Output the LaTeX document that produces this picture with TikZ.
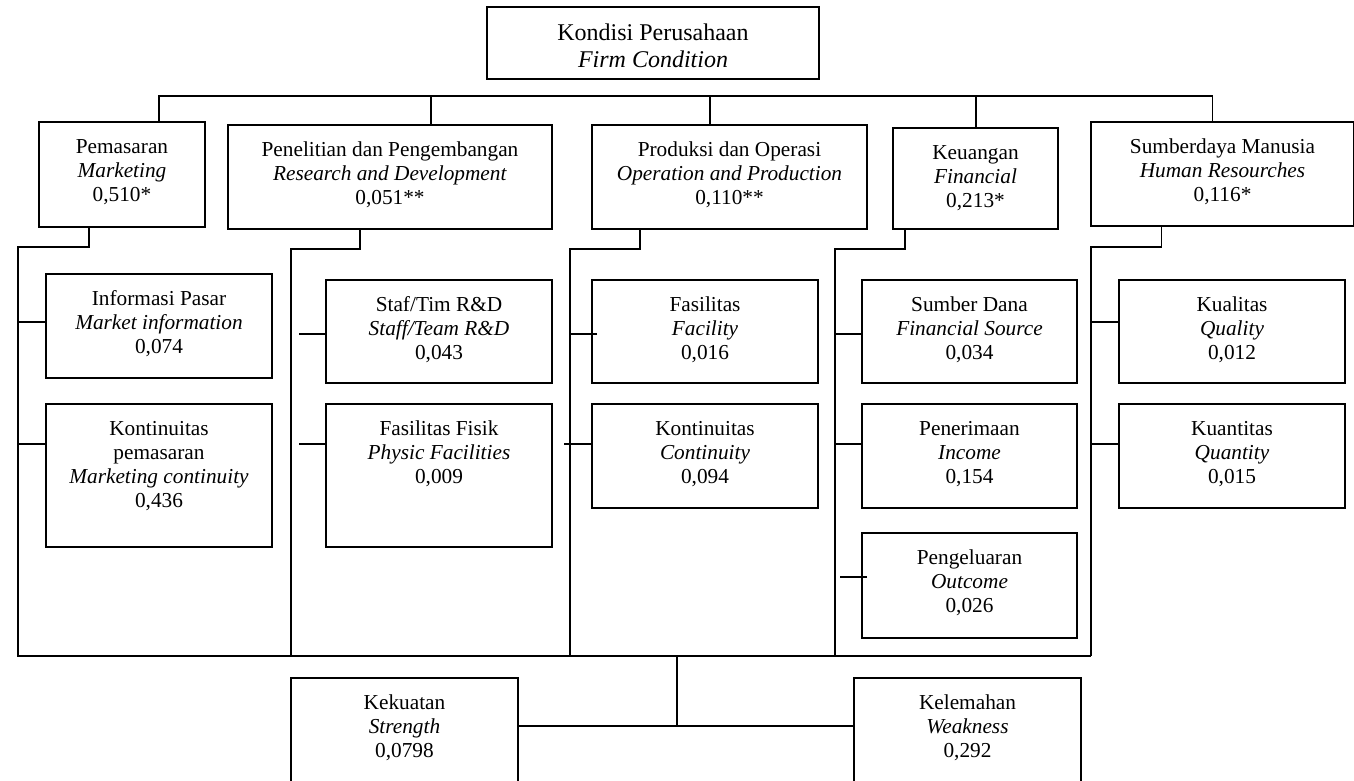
\documentclass[tikz,border=0pt]{standalone}
\usepackage{fontspec}
\setmainfont{Liberation Serif}
\newcommand\bt[4][31pt]{\parbox[c][#3][t]{#2}{\centering\fontsize{21.3}{24}\selectfont\rule{0pt}{#1}#4\par}}
\newcommand\btbig[3]{\parbox[c][#2][t]{#1}{\centering\fontsize{24}{27}\selectfont\rule{0pt}{33pt}#3\par}}
\begin{document}
\begin{tikzpicture}[x=1pt,y=-1pt,
  box/.style={draw, line width=1.5pt, inner sep=0pt, outer sep=0pt, anchor=north west},
  ln/.style={line width=1.5pt}]
\clip (0,0) rectangle (1354,780);
% top
\node[box] (top) at (487,7) {\btbig{332pt}{72pt}{Kondisi Perusahaan\\\textit{Firm Condition}}};
% level 1
\node[box] (mk) at (39,122) {\bt{166pt}{105pt}{Pemasaran\\\textit{Marketing}\\0,510*}};
\node[box] (rd) at (228,125) {\bt{324pt}{104pt}{Penelitian dan Pengembangan\\\textit{Research and Development}\\0,051**}};
\node[box] (op) at (592,125) {\bt{275pt}{104pt}{Produksi dan Operasi\\\textit{Operation and Production}\\0,110**}};
\node[box] (fi) at (893,128) {\bt{165pt}{101pt}{Keuangan\\\textit{Financial}\\0,213*}};
\node[box] (hr) at (1091,122) {\bt{263pt}{104pt}{Sumberdaya Manusia\\\textit{Human Resourches}\\0,116*}};
% level 2
\node[box] (a1) at (46,274) {\bt{226pt}{104pt}{Informasi Pasar\\\textit{Market information}\\0,074}};
\node[box] (a2) at (46,404) {\bt{226pt}{143pt}{Kontinuitas\\pemasaran\\\textit{Marketing continuity}\\0,436}};
\node[box] (b1) at (326,280) {\bt{226pt}{103pt}{Staf/Tim R\&D\\\textit{Staff/Team R\&D}\\0,043}};
\node[box] (b2) at (326,404) {\bt{226pt}{143pt}{Fasilitas Fisik\\\textit{Physic Facilities}\\0,009}};
\node[box] (c1) at (592,280) {\bt{226pt}{103pt}{Fasilitas\\\textit{Facility}\\0,016}};
\node[box] (c2) at (592,404) {\bt{226pt}{104pt}{Kontinuitas\\\textit{Continuity}\\0,094}};
\node[box] (d1) at (862,280) {\bt{215pt}{103pt}{Sumber Dana\\\textit{Financial Source}\\0,034}};
\node[box] (d2) at (862,404) {\bt{215pt}{104pt}{Penerimaan\\\textit{Income}\\0,154}};
\node[box] (d3) at (862,533) {\bt{215pt}{105pt}{Pengeluaran\\\textit{Outcome}\\0,026}};
\node[box] (e1) at (1119,280) {\bt{226pt}{103pt}{Kualitas\\\textit{Quality}\\0,012}};
\node[box] (e2) at (1119,404) {\bt{226pt}{104pt}{Kuantitas\\\textit{Quantity}\\0,015}};
% bottom
\node[box] (ks) at (291,678) {\bt{227pt}{130pt}{Kekuatan\\\textit{Strength}\\0,0798}};
\node[box] (kl) at (854,678) {\bt{227pt}{130pt}{Kelemahan\\\textit{Weakness}\\0,292}};
% top bus
\draw[ln] ([xshift=37pt]mk.north) -- ++(0,-26) -| ([xshift=-10pt]hr.north);
\draw[ln] ([xshift=41pt]rd.north) -- ++(0,-29);
\draw[ln] ([xshift=-19.5pt]op.north) -- ++(0,-29);
\draw[ln] ([xshift=0.5pt]fi.north) -- ++(0,-32);
% bottom bus
\coordinate (v1) at (18,656);
\coordinate (v2) at (291,656);
\coordinate (v3) at (570,656);
\coordinate (v4) at (835,656);
\coordinate (v5) at (1091,656);
\draw[ln] ([xshift=-33pt]mk.south) -- ++(0,20) -| (v1) -- (v5);
\draw[ln] ([xshift=-30pt]rd.south) -- ++(0,20) -| (v2);
\draw[ln] ([xshift=-89.5pt]op.south) -- ++(0,20) -| (v3);
\draw[ln] ([xshift=-70.5pt]fi.south) -- ++(0,20) -| (v4);
\draw[ln] ([xshift=-61pt]hr.south) -- ++(0,21) -| (v5);
% stubs
\draw[ln] ([yshift=4pt]a1.west) -- ++(-28,0);
\draw[ln] ([yshift=31.5pt]a2.west) -- ++(-28,0);
\draw[ln] ([yshift=-2.5pt]b1.west) -- ++(-27,0);
\draw[ln] ([yshift=31.5pt]b2.west) -- ++(-27,0);
\draw[ln] ([xshift=5pt,yshift=-2.5pt]c1.west) -- ++(-27,0);
\draw[ln] ([yshift=12pt]c2.west) -- ++(-28,0);
\draw[ln] ([yshift=-2.5pt]d1.west) -- ++(-27,0);
\draw[ln] ([yshift=12pt]d2.west) -- ++(-27,0);
\draw[ln] ([xshift=5pt,yshift=8.5pt]d3.west) -- ++(-27,0);
\draw[ln] ([yshift=9.5pt]e1.west) -- ++(-28,0);
\draw[ln] ([yshift=12pt]e2.west) -- ++(-28,0);
% to strength / weakness
\coordinate (j) at (677,726);
\draw[ln] (j |- v1) -- (j);
\draw[ln] (ks.east |- j) -- (kl.west |- j);
\end{tikzpicture}
\end{document}
